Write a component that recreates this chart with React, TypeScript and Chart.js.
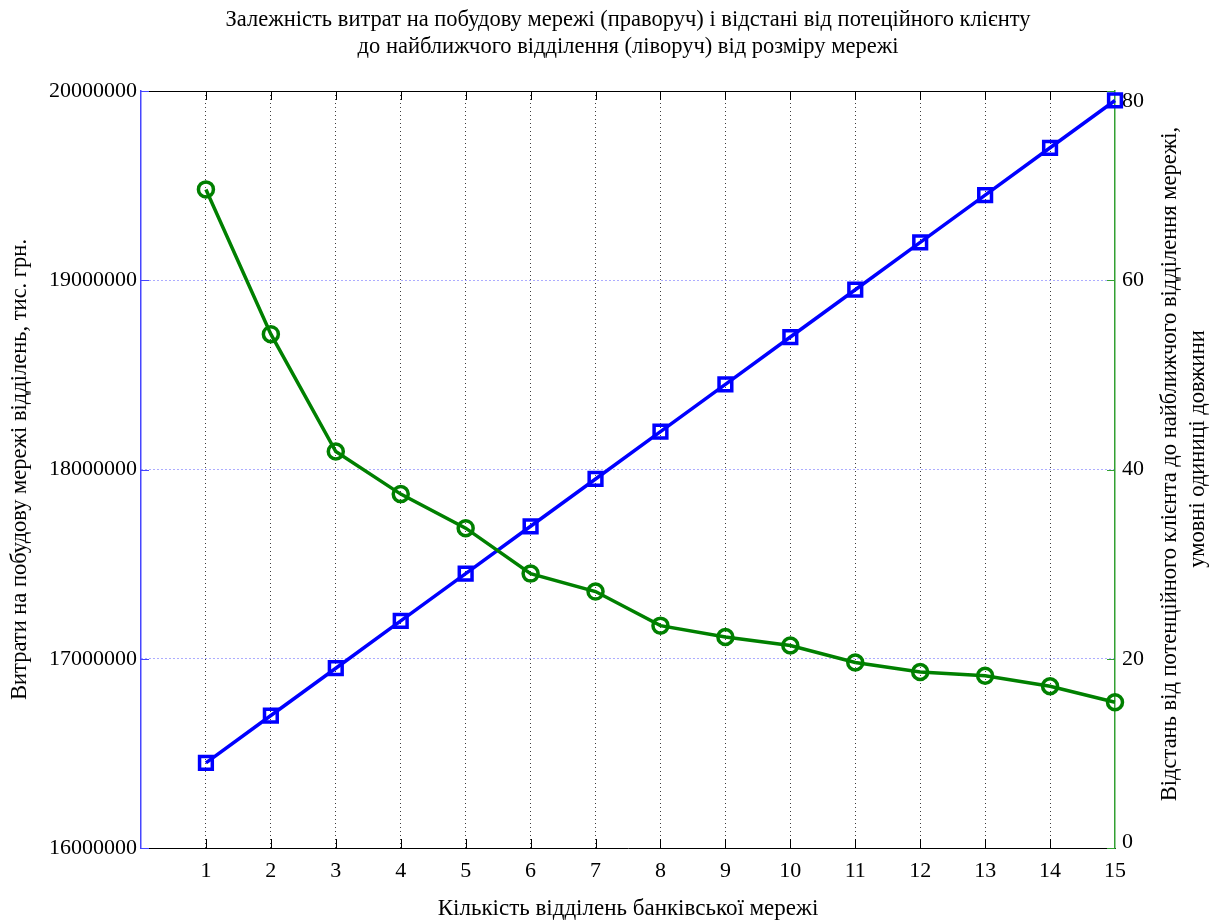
import React, { useEffect, useRef } from 'react';
import { Chart, registerables } from 'chart.js';

Chart.register(...registerables);

// ---- data ----
const branchCounts = [1, 2, 3, 4, 5, 6, 7, 8, 9, 10, 11, 12, 13, 14, 15];
const networkCost = [
  16450000, 16700000, 16950000, 17200000, 17450000, 17700000, 17950000, 18200000,
  18450000, 18700000, 18950000, 19200000, 19450000, 19700000, 19950000,
];
const clientDistance = [69.6, 54.3, 41.9, 37.4, 33.8, 29.0, 27.1, 23.5, 22.3, 21.4, 19.6, 18.6, 18.2, 17.1, 15.4];
const xTickValues = [1, 2, 3, 4, 5, 6, 7, 8, 9, 10, 11, 12, 13, 14, 15];
const costTickValues = [16000000, 17000000, 18000000, 19000000, 20000000];
const distanceTickValues = [0, 20, 40, 60, 80];

const titleLines = [
  'Залежність витрат на побудову мережі (праворуч) і відстані від потеційного клієнту',
  'до найближчого відділення (ліворуч) від розміру мережі',
];
const xTitle = 'Кількість відділень банківської мережі';
const leftTitle = 'Витрати на побудову мережі відділень, тис. грн.';
const rightTitleLines = [
  'Відстань від потенційного клієнта до найближчого відділення мережі,',
  'умовні одиниці довжини',
];

const FONT = '"Liberation Serif", "Times New Roman", serif';
const TITLE_SIZE = 22.5;
const TICK_SIZE = 22;

const framePlugin = {
  id: 'frame',
  beforeDatasetsDraw(chart: any) {
    const { ctx, chartArea, scales } = chart;
    const { left, right, top, bottom } = chartArea;
    ctx.save();
    ctx.lineWidth = 1;
    // top border
    ctx.strokeStyle = '#000';
    ctx.beginPath();
    ctx.moveTo(left, Math.round(top) + 0.5);
    ctx.lineTo(right, Math.round(top) + 0.5);
    ctx.stroke();
    // x ticks (bottom & top, inward)
    ctx.beginPath();
    scales.x.ticks.forEach((t: any) => {
      if (t.value <= 0 || t.value >= 15) return;
      const px = Math.round(scales.x.getPixelForValue(t.value)) + 0.5;
      ctx.moveTo(px, bottom);
      ctx.lineTo(px, bottom - 9);
      ctx.moveTo(px, top);
      ctx.lineTo(px, top + 9);
    });
    ctx.stroke();
    // left ticks
    ctx.strokeStyle = 'rgb(70,70,255)';
    ctx.beginPath();
    scales.y.ticks.forEach((t: any) => {
      const py = Math.round(scales.y.getPixelForValue(t.value)) + 0.5;
      ctx.moveTo(left, py);
      ctx.lineTo(left + 8, py);
    });
    ctx.stroke();
    // right ticks
    ctx.strokeStyle = 'rgb(50,160,50)';
    ctx.beginPath();
    scales.y1.ticks.forEach((t: any) => {
      const py = Math.round(scales.y1.getPixelForValue(t.value)) + 0.5;
      ctx.moveTo(right, py);
      ctx.lineTo(right - 8, py);
    });
    ctx.stroke();
    ctx.restore();
  },
  afterDraw(chart: any) {
    const { ctx } = chart;
    ctx.save();
    ctx.fillStyle = '#000';
    ctx.font = `${TITLE_SIZE}px ${FONT}`;
    ctx.textAlign = 'center';
    ctx.textBaseline = 'middle';
    const cols = [1170, 1198];
    const centers = [464, 449];
    rightTitleLines.forEach((line, i) => {
      ctx.save();
      ctx.translate(cols[i], centers[i]);
      ctx.rotate(-Math.PI / 2);
      ctx.fillText(line, 0, 0);
      ctx.restore();
    });
    ctx.restore();
  },
};

export default function App() {
  const ref = useRef<HTMLCanvasElement>(null);

  useEffect(() => {
    if (!ref.current) return;
    Chart.defaults.font.family = FONT;
    Chart.defaults.color = '#000';
    const chart = new Chart(ref.current, {
      type: 'line',
      data: {
        datasets: [
          {
            label: 'cost',
            data: branchCounts.map((x, i) => ({ x, y: networkCost[i] })),
            yAxisID: 'y',
            borderColor: '#0000ff',
            borderWidth: 3.5,
            pointStyle: 'rect',
            pointRadius: 9,
            pointBorderWidth: 3.5,
            pointBorderColor: '#0000ff',
            pointBackgroundColor: 'rgba(0,0,0,0)',
            order: 1,
            clip: false as any,
          },
          {
            label: 'distance',
            data: branchCounts.map((x, i) => ({ x, y: clientDistance[i] })),
            yAxisID: 'y1',
            borderColor: '#008000',
            borderWidth: 3.5,
            pointStyle: 'circle',
            pointRadius: 7.5,
            pointBorderWidth: 3.5,
            pointBorderColor: '#008000',
            pointBackgroundColor: 'rgba(0,0,0,0)',
            order: 0,
            clip: false as any,
          },
        ],
      },
      options: {
        animation: false,
        responsive: false,
        maintainAspectRatio: false,
        devicePixelRatio: 1,
        layout: { padding: 0 },
        plugins: {
          legend: { display: false },
          tooltip: { enabled: false },
          title: {
            display: true,
            text: titleLines,
            fullSize: false,
            font: { size: TITLE_SIZE, weight: 'normal', family: FONT, lineHeight: '27px' },
            color: '#000',
            padding: { top: 6.5, bottom: 30.5 },
          },
        },
        scales: {
          x: {
            type: 'linear',
            position: 'bottom',
            min: 0,
            max: 15,
            afterBuildTicks: (s: any) => {
              s.ticks = xTickValues.map((v) => ({ value: v }));
            },
            afterFit: (s: any) => {
              s.height = 75;
            },
            ticks: {
              autoSkip: false,
              maxRotation: 0,
              padding: 10,
              font: { size: TICK_SIZE, family: FONT },
              color: '#000',
            },
            grid: {
              drawTicks: false,
              lineWidth: 1,
              color: (c: any) => (c.tick && (c.tick.value <= 0 || c.tick.value >= 15) ? 'rgba(0,0,0,0)' : 'rgba(40,40,40,0.9)'),
            },
            border: { display: true, color: '#000', width: 1, dash: [1, 3] },
            title: {
              display: true,
              text: xTitle,
              font: { size: 23, family: FONT, lineHeight: '27.6px' },
              color: '#000',
              padding: { top: 0, bottom: 0 },
            },
          },
          y: {
            type: 'linear',
            position: 'left',
            min: 16000000,
            max: 20000000,
            afterBuildTicks: (s: any) => {
              s.ticks = costTickValues.map((v) => ({ value: v }));
            },
            afterFit: (s: any) => {
              s.width = 141;
            },
            ticks: {
              padding: 4,
              font: { size: TICK_SIZE, family: FONT },
              color: '#000',
              callback: (v: any) => String(v),
            },
            grid: {
              drawTicks: false,
              lineWidth: 1,
              color: (c: any) =>
                c.tick && (c.tick.value <= 16000000 || c.tick.value >= 20000000) ? 'rgba(0,0,0,0)' : 'rgb(90,90,255)',
            },
            border: { display: true, color: 'rgb(70,70,255)', width: 1.5, dash: [1, 3] },
            title: {
              display: true,
              text: leftTitle,
              font: { size: TITLE_SIZE, family: FONT, lineHeight: '27px' },
              color: '#000',
              padding: { top: 6.5, bottom: 0 },
            },
          },
          y1: {
            type: 'linear',
            position: 'right',
            min: 0,
            max: 80,
            afterBuildTicks: (s: any) => {
              s.ticks = distanceTickValues.map((v) => ({ value: v }));
            },
            afterFit: (s: any) => {
              s.width = 100;
            },
            ticks: {
              padding: 7,
              font: (c: any) => {
                const v = c.tick ? c.tick.value : null;
                const lh = v === 80 ? '20px' : v === 0 ? '12px' : '26px';
                return { size: TICK_SIZE, family: FONT, lineHeight: lh };
              },
              color: '#000',
              callback: (v: any) => (v === 80 ? ['', '80'] : v === 0 ? ['0', ''] : String(v)),
            },
            grid: { drawOnChartArea: false, drawTicks: false },
            border: { display: true, color: 'rgb(50,160,50)', width: 1.5 },
          },
        },
      },
      plugins: [framePlugin],
    } as any);
    return () => chart.destroy();
  }, []);

  return (
    <div style={{ position: 'fixed', left: 0, top: 0, width: 1215, height: 923, background: '#fff' }}>
      <canvas ref={ref} width={1215} height={923} style={{ width: 1215, height: 923 }} />
    </div>
  );
}
